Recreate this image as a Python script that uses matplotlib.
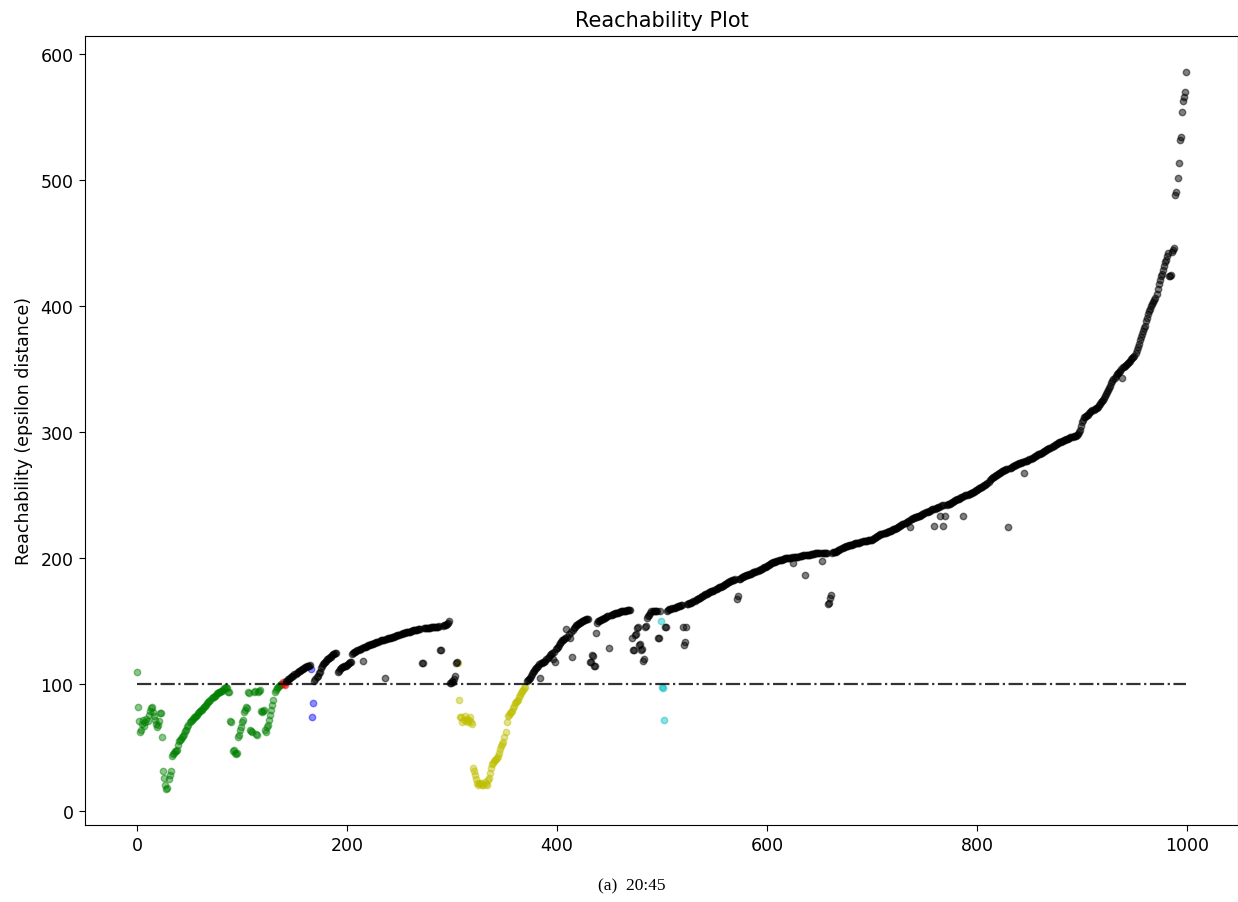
import numpy as np
import matplotlib
matplotlib.use("Agg")
import matplotlib.pyplot as plt

# Reachability distance for each point in OPTICS ordering (index = position)
reachability = [
    110, 82, 71, 62, 64, 69, 72, 67, 70, 73,
    71, 76, 79, 81, 82, 78, 75, 72, 69, 66,
    68, 71, 77, 77, 58, 31, 26, 20, 17, 18,
    25, 28, 31, 43, 45, 46, 47, 47, 48, 52,
    55, 56, 57, 58, 59, 61, 63, 64, 66, 68,
    70, 71, 72, 73, 74, 74, 75, 76, 77, 78,
    79, 80, 80, 81, 82, 83, 84, 85, 86, 87,
    88, 89, 90, 90, 91, 92, 93, 93, 94, 94,
    95, 95, 96, 97, 97, 98, 97, 94, 94, 71,
    70, 47, 48, 46, 45, 46, 58, 60, 64, 66,
    70, 72, 78, 80, 82, 81, 94, 93, 64, 63,
    62, 94, 95, 61, 60, 94, 95, 96, 79, 78,
    79, 80, 64, 62, 66, 68, 72, 76, 80, 84,
    88, 94, 96, 97, 98, 99, 99.5, 100, 100, 102,
    100, 99.5, 102.6, 103, 104, 104.5, 105, 106, 106.5, 107,
    108, 108.5, 109.5, 110, 110.5, 111, 111.5, 112, 112.5, 113,
    113.5, 114, 114.5, 114.5, 115, 115.5, 112, 74, 85, 103,
    104, 106, 107, 109, 110, 113, 115, 116, 117, 118,
    119, 120, 120.5, 121, 121.5, 122, 123, 124, 124.5, 125,
    125, 110, 111, 112, 113, 114, 114, 114.5, 115, 115,
    115.5, 116, 117, 118, 118, 124, 125, 125.5, 126, 126.5,
    127, 127.5, 128, 128.5, 129, 119, 129.5, 130, 130, 130.5,
    131, 131, 131.5, 132, 132, 132.5, 133, 133, 133.5, 134,
    134, 134.5, 135, 135, 135.5, 135.5, 105, 136, 136, 136.5,
    136.5, 137, 137, 137.5, 137.5, 138, 138.5, 138.5, 139, 139.5,
    139.5, 140, 140, 140.5, 141, 141, 141.5, 141.5, 142, 142,
    142, 142.5, 142.5, 143, 143, 143.5, 143.5, 143.5, 144, 144,
    144, 117, 117, 144.5, 144.5, 144.5, 145, 145, 145, 145,
    145.5, 145.5, 145.5, 145.5, 146, 146, 146, 146, 146.5, 127,
    127, 146.5, 147, 147, 147.5, 148, 149, 150, 101, 101.5,
    102.5, 102, 104, 107, 117, 117.5, 117, 88, 74, 74,
    70, 72, 75, 71, 73, 70, 72, 74, 70, 69,
    34, 31, 28, 25, 22, 20.5, 22, 21, 22, 20,
    20, 23, 21, 20.5, 24, 26, 30, 34, 37, 38,
    39, 40, 41, 42, 43, 46, 49, 51, 53, 54,
    58, 62, 70, 75, 76, 77, 78, 79, 81, 83,
    85, 86, 87, 88, 90, 92, 93, 95, 96, 97,
    98, 102.5, 103.5, 104.5, 105.5, 107, 108.5, 110, 111, 112,
    113, 114, 115, 116, 105.5, 117, 117, 117.5, 118, 119,
    120, 121, 122, 123, 124, 125, 120, 126, 118, 128,
    129, 130, 131.5, 133, 134, 135, 135.5, 136, 137, 144,
    138, 140, 137, 141.5, 122, 143, 145, 146, 147, 147.5,
    148, 148.5, 149, 149.5, 150, 150.5, 151, 151.5, 152, 152,
    152, 118, 117.5, 123, 122.5, 115, 114.5, 140.5, 149, 150,
    150.5, 151, 151.5, 152, 152, 152.5, 153, 153.5, 154, 154.5,
    129, 155, 155.5, 156, 156, 156.5, 156.5, 157, 157, 157.5,
    157.5, 158, 158, 158, 158.5, 158.5, 158.5, 159, 159, 159,
    159, 136.5, 127, 127.5, 139, 140, 145, 145.5, 131, 132,
    127, 128, 119, 120, 146, 146.5, 153, 154, 155, 157,
    158, 158, 158.5, 158.5, 158, 158, 136.5, 137, 158.5, 150,
    98, 97, 72, 146, 145.5, 158.5, 159, 159.5, 160, 160,
    160.5, 161, 161, 161.5, 161.5, 162, 162, 162.5, 163, 163,
    146, 131, 134, 146, 163.5, 164, 164.5, 165, 165, 165.5,
    166, 166.5, 167, 167.5, 168, 168.5, 169, 169.5, 170, 170.5,
    171, 171.5, 172, 172, 172.5, 173, 173.5, 174, 174, 174.5,
    175, 175.5, 176, 176.5, 177, 177, 177.5, 178, 178.5, 179,
    179.5, 180, 180.5, 181, 181.5, 182, 182, 182.5, 183, 183,
    183.5, 167.5, 170.5, 184, 184, 184.5, 185, 185.5, 186, 186,
    186.5, 187, 187, 187.5, 188, 188, 188.5, 189, 189, 189.5,
    190, 190, 190.5, 191, 191.5, 192, 192.5, 193, 193, 193.5,
    194, 194.5, 195, 195.5, 196, 196.5, 197, 197, 197.5, 198,
    198, 198.5, 198.5, 199, 199, 199.5, 199.5, 200, 200, 200,
    200, 200.5, 200.5, 200.5, 201, 196, 201, 201, 201.5, 201.5,
    201.5, 202, 202, 202, 202.5, 202.5, 186.5, 202.5, 203, 203,
    203, 203, 203.5, 203.5, 203.5, 203.5, 204, 204, 204, 204,
    204, 204, 198, 204.5, 204.5, 204.5, 204.5, 204.5, 164, 164.5,
    169, 171, 204.5, 205, 205, 205.5, 205.5, 206, 206.5, 207,
    207.5, 208, 208.5, 209, 209, 209.5, 210, 210, 210.5, 210.5,
    211, 211, 211.5, 211.5, 212, 212, 212, 212.5, 212.5, 213,
    213, 213.5, 213.5, 214, 214, 214, 214.5, 214.5, 215, 215,
    215, 215.5, 216, 216.5, 217, 217.5, 218, 218.5, 219, 219,
    219.5, 220, 220, 220.5, 221, 221, 221.5, 222, 222, 222.5,
    223, 223, 223.5, 224, 224.5, 225, 225.5, 226, 226.5, 227,
    227.5, 228, 228.5, 229, 229.5, 230, 224.6, 231, 231.5, 232,
    232, 232.5, 233, 233, 233.5, 234, 234, 234.5, 235, 235.5,
    236, 236.5, 237, 237, 237.5, 238, 238.5, 239, 239, 226,
    239.5, 240, 240, 240.5, 241, 234, 241.5, 242, 226, 242,
    234, 242.5, 243, 243, 243.5, 244, 244.5, 245, 245.5, 246,
    246.5, 247, 247, 247.5, 248, 248.5, 249, 234, 249.5, 250,
    250, 250.5, 251, 251.5, 252, 252, 252.5, 253, 253.5, 254,
    254.5, 255, 255.5, 256, 256.5, 257, 257.5, 258, 258.5, 259,
    260, 261, 262, 263, 264, 264.5, 265, 265.5, 266, 266.5,
    267, 267.5, 268, 268.5, 269, 269.5, 270, 270.5, 271, 271,
    225, 271.5, 272, 272.5, 273, 273.5, 274, 274.5, 275, 275,
    275.5, 276, 276, 276.5, 276.5, 268, 277, 277, 277.5, 278,
    278.5, 279, 279.5, 280, 280.5, 281, 281.5, 282, 282.5, 283,
    283, 283.5, 284, 284.5, 285, 285.5, 286, 286.5, 287, 287.5,
    288, 288.5, 289, 289.5, 290, 290.5, 291, 291.5, 292, 292,
    292.5, 293, 293.5, 294, 294, 294.5, 295, 295, 295.5, 296,
    296, 296.5, 297, 297, 297.5, 298, 299, 300, 302, 305,
    308, 310, 312, 312.5, 313, 313.5, 314, 315, 316, 317,
    317.5, 318, 318.5, 319, 319.5, 320.5, 321.5, 322.5, 324, 325,
    326, 327.5, 329, 330.5, 332, 333.5, 335, 337, 339, 340.5,
    342, 343.5, 345, 346, 347, 348, 349, 350, 343, 351.5,
    352, 353, 353.5, 354, 355, 356, 357, 358, 359, 360,
    360.5, 363, 365, 368, 370.5, 373, 375.5, 378, 380.5, 382.5,
    384.5, 388, 391, 394, 396, 398, 400, 402, 403.5, 405,
    407, 410, 414, 418, 421, 424, 426, 429, 432, 435,
    437, 440, 442, 424, 424, 425, 443, 445, 446, 488,
    491, 502, 514, 532, 534, 554, 563, 566, 570, 586,
]

# Extracted clusters (inclusive index ranges in the ordering) and their colours
cluster_colors = ["g", "r", "b", "y", "c"]
cluster_first = [0, 139, 166, 306, 499]
cluster_last = [138, 141, 168, 370, 502]

eps_threshold = 100
title_text = "Reachability Plot"
ylabel_text = "Reachability (epsilon distance)"
caption_text = "(a)  20:45"

reach = np.asarray(reachability, dtype=float)
space = np.arange(len(reach))
labels = np.full(len(reach), -1)
for k, (a, b) in enumerate(zip(cluster_first, cluster_last)):
    labels[a:b + 1] = k

fig = plt.figure(figsize=(12.38, 9.03), dpi=100)
ax = fig.add_axes([0.0683, 0.0853, 0.932, 0.8737])

for k, col in enumerate(cluster_colors):
    m = labels == k
    ax.plot(space[m], reach[m], marker="o", linestyle="none", color=col,
            markersize=4.6, markeredgewidth=1.0, alpha=0.45)
m = labels == -1
ax.plot(space[m], reach[m], marker="o", linestyle="none", color="k",
        markersize=4.6, markeredgewidth=1.0, alpha=0.5)
ax.plot(space, np.full_like(space, eps_threshold, dtype=float), "k-.",
        alpha=0.8, linewidth=1.6)

ax.set_xlim(-49.95, 1048.95)
ax.set_ylim(-11.45, 614.45)
ax.set_xticks([0, 200, 400, 600, 800, 1000])
ax.set_yticks([0, 100, 200, 300, 400, 500, 600])
ax.tick_params(labelsize=12.5, length=4.5)
ax.set_title(title_text, fontsize=15, pad=7)
ax.set_ylabel(ylabel_text, fontsize=12.5, labelpad=5)

fig.text(0.51, 0.0144, caption_text, family="Liberation Serif", fontsize=12.5,
         ha="center", va="baseline")

fig.savefig("out.png", dpi=100)
